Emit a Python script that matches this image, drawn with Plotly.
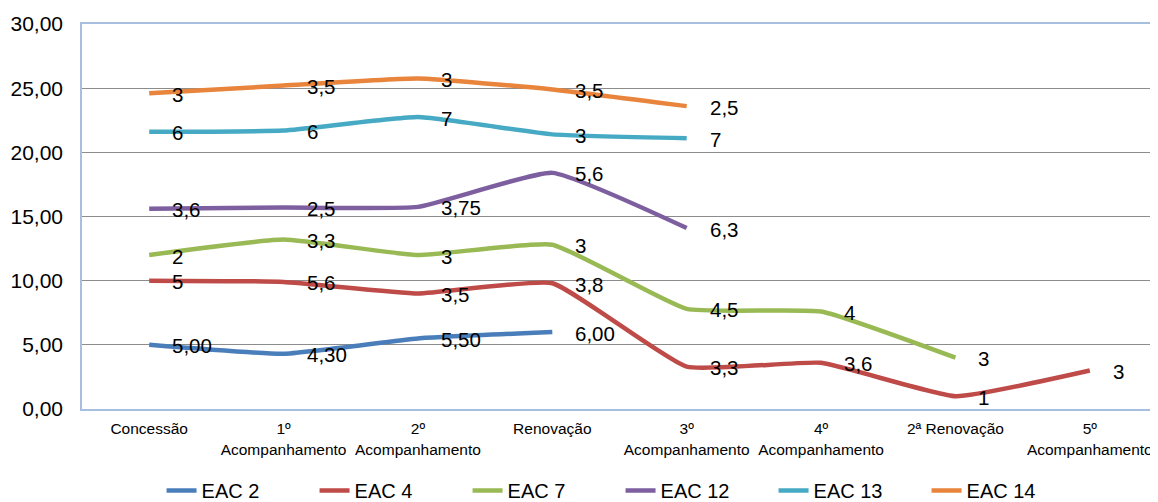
import plotly.graph_objects as go

categories = ["Concessão", "1º<br>Acompanhamento", "2º<br>Acompanhamento", "Renovação",
              "3º<br>Acompanhamento", "4º<br>Acompanhamento", "2ª Renovação", "5º<br>Acompanhamento"]

series_names = ["EAC 2", "EAC 4", "EAC 7", "EAC 12", "EAC 13", "EAC 14"]
eac2 = [5.00, 4.30, 5.50, 6.00, None, None, None, None]
eac4 = [5, 5.6, 3.5, 3.8, 3.3, 3.6, 1, 3]
eac7 = [2, 3.3, 3, 3, 4.5, 4, 3, None]
eac12 = [3.6, 2.5, 3.75, 5.6, 6.3, None, None, None]
eac13 = [6, 6, 7, 3, 7, None, None, None]
eac14 = [3, 3.5, 3, 3.5, 2.5, None, None, None]
colors = ["#4A7EBB", "#BE4B48", "#98B954", "#7D5FA0", "#46AAC5", "#E8843C"]
label_decimals = [2, None, None, None, None, None]

y_ticks = [0, 5, 10, 15, 20, 25, 30]

FONT = "Liberation Sans, Arial, sans-serif"


def fmt(v, dec):
    s = f"{v:.{dec}f}" if dec is not None else f"{v:g}"
    return s.replace(".", ",")


all_series = [eac2, eac4, eac7, eac12, eac13, eac14]

fig = go.Figure()
running = [0.0] * len(categories)
annotations = []
for name, vals, col, dec in zip(series_names, all_series, colors, label_decimals):
    cum = []
    for i, v in enumerate(vals):
        if v is None:
            cum.append(None)
        else:
            running[i] += v
            cum.append(running[i])
    fig.add_trace(go.Scatter(
        x=categories, y=cum, name=name, mode="lines",
        line=dict(color=col, width=4.5, shape="spline", smoothing=0.4),
        connectgaps=False,
    ))
    for c, y, v in zip(categories, cum, vals):
        if v is None:
            continue
        annotations.append(dict(
            x=c, y=y, xref="x", yref="y", text=fmt(v, dec), showarrow=False,
            xanchor="left", yanchor="middle", xshift=21, yshift=-1,
            font=dict(family=FONT, size=20.5, color="black"),
        ))

# page body has an 8px margin, so the figure is sized 8px smaller
fig.update_layout(
    width=1150, height=494,
    margin=dict(l=74, r=1, t=16, b=93, autoexpand=False),
    paper_bgcolor="white", plot_bgcolor="white",
    separators=",.",
    font=dict(family=FONT, color="black"),
    annotations=annotations,
    showlegend=True,
    legend=dict(orientation="h", x=0.074, xanchor="left", y=-0.212, yanchor="middle",
                font=dict(family=FONT, size=20, color="black"),
                entrywidth=108, entrywidthmode="pixels", itemwidth=30,
                bgcolor="rgba(0,0,0,0)"),
)
fig.update_xaxes(
    type="category", range=[-0.5, len(categories) - 0.5], automargin=False,
    showgrid=False, showline=True, linecolor="#A7BFDE", linewidth=1.5, mirror=True,
    ticks="", tickfont=dict(family=FONT, size=15.5, color="black"),
    ticklabelstandoff=5, fixedrange=True,
)
fig.update_yaxes(
    range=[0, 30], tickvals=y_ticks, tickformat=".2f", automargin=False,
    showgrid=True, gridcolor="#8C8C8C", gridwidth=1,
    showline=True, linecolor="#A7BFDE", linewidth=1.5, mirror=True,
    zeroline=False, ticks="", tickfont=dict(family=FONT, size=21, color="black"),
    ticklabelstandoff=13, fixedrange=True,
)

fig.write_html("out.html")
